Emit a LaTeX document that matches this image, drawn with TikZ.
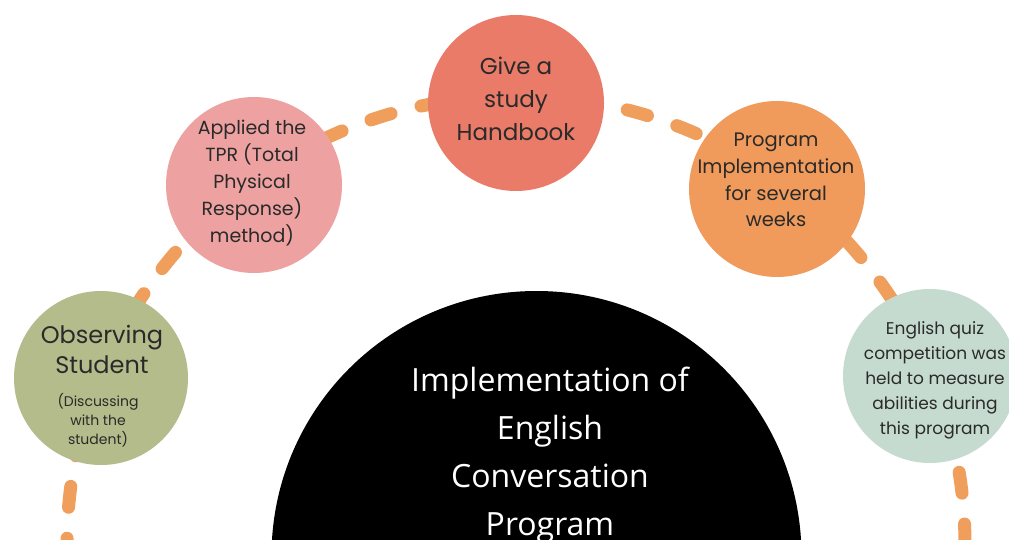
\documentclass[tikz,border=0pt]{standalone}
\usepackage{fontspec}
\setmainfont{Poppins}
\newfontfamily\opensans{Open Sans}
\definecolor{cHb}{HTML}{E97B68}
\definecolor{cTpr}{HTML}{EDA1A0}
\definecolor{cProg}{HTML}{F09B5B}
\definecolor{cObs}{HTML}{B3BC8A}
\definecolor{cQuiz}{HTML}{C6DBCF}
\definecolor{cDash}{HTML}{EF9E5C}
\definecolor{cTxt}{HTML}{2A2A2A}
\tikzset{
  bub/.style={circle, minimum size=#1, inner sep=0pt, draw=none},
  bub/.default=176pt,
  txt/.style={align=center, inner sep=0pt, text=cTxt},
  dashline/.style={draw=cDash, line width=13pt, line cap=round, dash pattern=on 21pt off 31pt},
}
\begin{document}
\begin{tikzpicture}[x=1pt,y=1pt]
\useasboundingbox (0,0) rectangle (1009,539);
\clip (0,0) rectangle (1009,539);
\fill[white] (0,0) rectangle (1009,539);
% dashed path
\coordinate (arcc) at (516,-6);
\draw[dashline] (arcc) circle (449);
% bubbles
\node[bub, fill=cHb] (hb) at (516,436) {};
\node[txt, font=\fontsize{23}{33}\selectfont] (hbt) at (516,440) {Give a\\study\\Handbook};
\node[bub, fill=cTpr] (tpr) at (254,354) {};
\node[txt, font=\fontsize{19}{27}\selectfont] (tprt) at (252,356) {Applied the\\TPR (Total\\Physical\\Response)\\method)};
\node[bub, fill=cProg] (prog) at (777,350) {};
\node[txt, font=\fontsize{19.5}{26.7}\selectfont] (progt) at (776,359) {Program\\Implementation\\for several\\weeks};
\node[bub=174pt, fill=cObs] (obs) at (101,161) {};
\node[txt, font=\fontsize{24}{30}\selectfont] (obst) at (102,190) {Observing\\Student};
\node[txt, font=\fontsize{14}{19}\selectfont] (obss) at (98,119) {(Discussing\\with the\\student)};
\node[bub=174pt, fill=cQuiz] (quiz) at (930,163) {};
\node[txt, font=\fontsize{17}{25}\selectfont] (quizt) at (935,159) {English quiz\\competition was\\held to measure\\abilities during\\this program};
% central half circle
\node[circle, fill=black, minimum size=530pt, inner sep=0pt] (hub) at (536.5,-17) {};
\node[align=center, inner sep=0pt, text=white, font=\opensans\fontsize{32}{48}\selectfont] (hubt) at (550,84) {Implementation of\\English\\Conversation\\Program};
\end{tikzpicture}
\end{document}
